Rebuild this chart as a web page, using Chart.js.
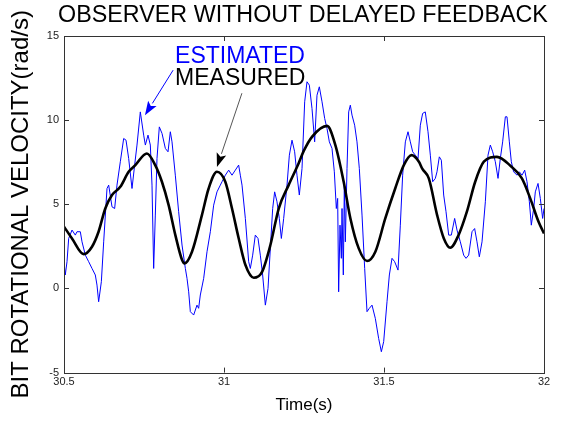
<!DOCTYPE html>
<html>
<head>
<meta charset="utf-8">
<script src="https://cdn.jsdelivr.net/npm/chart.js"></script>
<style>
  html, body { margin: 0; padding: 0; background: #fff; }
  #wrap { width: 566px; height: 422px; position: relative; }
</style>
</head>
<body>
<div id="wrap"><canvas id="c" width="566" height="422"></canvas></div>
<script>
// ---- data ----
const TITLE = "OBSERVER WITHOUT DELAYED FEEDBACK";
const X_TITLE = "Time(s)";
const Y_TITLE = "BIT ROTATIONAL VELOCITY(rad/s)";
const X_TICKS = [30.5, 31, 31.5, 32];
const Y_TICKS = [-5, 0, 5, 10, 15];

const MEASURED_T = [30.5, 30.525, 30.5615, 30.5875, 30.608, 30.629, 30.65, 30.676, 30.702, 30.723, 30.759, 30.785, 30.806, 30.827, 30.848, 30.869, 30.877, 30.9, 30.931, 30.952, 30.978, 31.004, 31.025, 31.046, 31.067, 31.093, 31.119, 31.145, 31.171, 31.202, 31.233, 31.25, 31.275, 31.322, 31.348, 31.374, 31.395, 31.421, 31.447, 31.473, 31.504, 31.535, 31.562, 31.586, 31.609, 31.62, 31.64, 31.666, 31.687, 31.707, 31.733, 31.759, 31.785, 31.812, 31.853, 31.895, 31.931, 31.957, 31.983, 32.0];
const MEASURED_V = [3.67, 2.97, 2.04, 2.48, 3.37, 4.75, 5.55, 6.04, 6.93, 7.33, 8.02, 7.33, 6.34, 4.95, 3.17, 1.69, 1.49, 2.18, 4.36, 5.94, 6.93, 6.34, 4.75, 2.97, 1.39, 0.64, 0.99, 2.58, 4.75, 6.14, 7.43, 8.2, 9.01, 9.66, 8.52, 6.34, 4.16, 2.38, 1.63, 2.18, 4.16, 5.94, 7.33, 7.92, 7.53, 7.1, 6.54, 4.36, 2.97, 2.42, 3.17, 4.56, 6.34, 7.53, 7.82, 7.29, 6.54, 5.35, 3.96, 3.27];

const ESTIMATED_T = [30.5, 30.504, 30.5094, 30.5146, 30.525, 30.5354, 30.5406, 30.551, 30.5563, 30.5667, 30.5771, 30.5875, 30.5979, 30.6031, 30.6083, 30.6167, 30.624, 30.6344, 30.6396, 30.65, 30.6583, 30.6656, 30.676, 30.6865, 30.6938, 30.7021, 30.7125, 30.7208, 30.7281, 30.7385, 30.749, 30.7542, 30.7625, 30.7698, 30.775, 30.7802, 30.7854, 30.7906, 30.7979, 30.8063, 30.8167, 30.825, 30.8323, 30.8375, 30.8479, 30.8583, 30.8688, 30.8792, 30.8844,
  30.8896, 30.8948, 30.9052, 30.9156, 30.9208, 30.926, 30.9365, 30.9469, 30.9573, 30.9677, 30.9781, 30.9885, 30.9938, 31.0042, 31.0146, 31.025, 31.0354, 31.0458, 31.051, 31.0563, 31.0667, 31.0771, 31.0823, 31.0896, 31.0979, 31.1063, 31.1135, 31.1208, 31.1292, 31.1375, 31.1448, 31.1521, 31.1583, 31.1656, 31.1729, 31.1792, 31.1865, 31.1969, 31.2042, 31.2125, 31.2208, 31.2281, 31.2354, 31.2438,
  31.2521, 31.2594, 31.2667, 31.275, 31.2833, 31.2906, 31.2979, 31.3063, 31.3146, 31.3219, 31.3292, 31.3375, 31.3448, 31.351, 31.3552, 31.3583, 31.3625, 31.3667, 31.3688, 31.3729, 31.376, 31.3792, 31.3844, 31.3896, 31.3948, 31.4, 31.4083, 31.4156, 31.4229, 31.4313, 31.4396, 31.4469, 31.4542, 31.4625, 31.4729, 31.4833, 31.4917, 31.499, 31.5094, 31.5167, 31.525, 31.5333, 31.5438, 31.551, 31.5583, 31.5667, 31.575, 31.5823, 31.5896, 31.5979, 31.6063, 31.6135, 31.6208,
  31.629, 31.6375, 31.6448, 31.6521, 31.6604, 31.6656, 31.6729, 31.6792, 31.6865, 31.6938, 31.7021, 31.7104, 31.7208, 31.7281, 31.7385, 31.749, 31.7563, 31.7646, 31.775, 31.7833, 31.7906, 31.7979, 31.8063, 31.8167, 31.825, 31.8323, 31.8396, 31.8479, 31.8563, 31.8635, 31.8708, 31.8792, 31.8844, 31.8917, 31.8979, 31.9052, 31.9156, 31.9229, 31.9313, 31.9396, 31.9469, 31.9542, 31.9604, 31.9677, 31.9729, 31.9813, 31.9885, 31.9958, 32.0];
const ESTIMATED_V = [1.59, 0.80, 1.59, 2.97, 3.47, 3.17, 3.37, 3.37, 2.77, 1.98, 1.59, 1.19, 0.80, 0.20, -0.79, 0.40, 2.77, 5.94, 6.14, 4.85, 4.75, 6.14, 7.53, 8.91, 8.81, 7.72, 5.94, 7.33, 8.52, 10.49, 9.11, 8.52, 9.11, 8.52, 6.14, 1.19, 4.36, 7.72, 9.60, 9.21, 8.32, 8.12, 9.31, 8.71, 6.73, 4.56, 2.58, 1.19, 0.60,
  -0.20, -1.38, -1.58, -0.99, -1.18, -0.39, 0.60, 2.18, 3.37, 4.95, 5.74, 6.14, 6.34, 6.73, 7.03, 6.73, 7.03, 7.33, 6.73, 6.14, 4.16, 1.59, 1.19, 1.98, 3.17, 2.97, 1.98, 0.80, -0.99, 0.00, 2.38, 4.75, 5.74, 5.15, 4.16, 2.97, 4.16, 6.14, 7.92, 8.81, 8.12, 6.73, 5.55, 7.13,
  11.09, 12.28, 12.08, 10.69, 8.71, 11.48, 11.98, 11.09, 10.10, 9.50, 8.71, 8.32, 6.93, 4.75, 5.35, -0.20, 3.76, 1.79, 4.75, 0.80, 6.14, 2.77, 7.13, 10.49, 10.89, 10.30, 9.70, 8.71, 7.13, 4.36, 1.19, -1.38, -1.18, -0.99, -1.78, -2.97, -3.76, -3.16, -0.79, 0.80, 1.79, 1.59, 1.09, 3.76, 6.73, 8.71, 9.31, 8.71, 8.12, 7.92, 7.72, 9.70, 10.40,
  10.49, 9.31, 7.92, 6.34, 6.54, 6.93, 7.82, 7.62, 5.55, 4.56, 3.17, 3.17, 4.16, 3.47, 2.77, 1.98, 1.79, 1.98, 3.37, 3.56, 2.77, 1.88, 2.77, 5.15, 7.92, 8.52, 8.12, 7.53, 6.54, 7.72, 8.71, 10.20, 10.20, 8.71, 7.53, 6.93, 6.73, 6.93, 6.73, 7.03, 6.34, 5.15, 3.76, 4.75, 5.74, 6.24, 5.35, 4.16, 4.75];

// annotation labels and arrows (data units)
const LABEL_EST = { text: "ESTIMATED", x: 30.847, y: 13.8, color: "#0000ff" };
const LABEL_MEAS = { text: "MEASURED", x: 30.847, y: 12.49, color: "#000000" };
const ARROW_EST = { from: [30.841, 12.97], to: [30.753, 10.29], line: "#0000ff", head: "#0000ff" };
const ARROW_MEAS = { from: [31.056, 11.6], to: [30.978, 7.21], line: "#555555", head: "#000000" };

const FONT = "Arial, 'Liberation Sans', Helvetica, sans-serif";

const toXY = (ts, vs) => ts.map((t, i) => ({ x: t, y: vs[i] }));

const framePlugin = {
  id: 'frame',
  afterDatasetsDraw(chart) {
    const ctx = chart.ctx;
    const a = chart.chartArea;
    const xs = chart.scales.x, ys = chart.scales.y;
    ctx.save();
    // box
    ctx.strokeStyle = '#333';
    ctx.lineWidth = 1;
    ctx.strokeRect(Math.round(a.left) + 0.5, Math.round(a.top) + 0.5, Math.round(a.right - a.left), Math.round(a.bottom - a.top));
    // inward ticks
    const L = 5;
    ctx.beginPath();
    X_TICKS.forEach(v => {
      const px = Math.round(xs.getPixelForValue(v)) + 0.5;
      ctx.moveTo(px, a.bottom); ctx.lineTo(px, a.bottom - L);
      ctx.moveTo(px, a.top); ctx.lineTo(px, a.top + L);
    });
    Y_TICKS.forEach(v => {
      const py = Math.round(ys.getPixelForValue(v)) + 0.5;
      ctx.moveTo(a.left, py); ctx.lineTo(a.left + L, py);
      ctx.moveTo(a.right, py); ctx.lineTo(a.right - L, py);
    });
    ctx.stroke();

    // arrows
    const arrow = (ar) => {
      const x1 = xs.getPixelForValue(ar.from[0]), y1 = ys.getPixelForValue(ar.from[1]);
      const x2 = xs.getPixelForValue(ar.to[0]), y2 = ys.getPixelForValue(ar.to[1]);
      const ang = Math.atan2(y2 - y1, x2 - x1);
      const hl = 14, hw = 5;
      const bx = x2 - hl * Math.cos(ang), by = y2 - hl * Math.sin(ang);
      ctx.strokeStyle = ar.line; ctx.lineWidth = 1;
      ctx.beginPath(); ctx.moveTo(x1, y1); ctx.lineTo(bx, by); ctx.stroke();
      ctx.fillStyle = ar.head;
      ctx.beginPath();
      ctx.moveTo(x2, y2);
      ctx.lineTo(bx + hw * Math.sin(ang), by - hw * Math.cos(ang));
      ctx.lineTo(bx + 3 * Math.cos(ang), by + 3 * Math.sin(ang));
      ctx.lineTo(bx - hw * Math.sin(ang), by + hw * Math.cos(ang));
      ctx.closePath(); ctx.fill();
    };
    arrow(ARROW_EST);
    arrow(ARROW_MEAS);

    // labels
    ctx.font = "23px " + FONT;
    ctx.textBaseline = 'middle';
    ctx.textAlign = 'left';
    [LABEL_EST, LABEL_MEAS].forEach(l => {
      ctx.fillStyle = l.color;
      ctx.fillText(l.text, xs.getPixelForValue(l.x), ys.getPixelForValue(l.y));
    });

    // main title, centered on plot area
    ctx.fillStyle = '#000';
    ctx.font = "23.3px " + FONT;
    ctx.textAlign = 'center';
    ctx.fillText(TITLE, (a.left + a.right) / 2 - 1, 16);
    ctx.restore();
  }
};

new Chart(document.getElementById('c'), {
  type: 'scatter',
  data: {
    datasets: [
      {
        label: 'MEASURED',
        data: toXY(MEASURED_T, MEASURED_V),
        showLine: true,
        borderColor: '#000000',
        borderWidth: 2.6,
        pointRadius: 0,
        tension: 0.4,
        cubicInterpolationMode: 'monotone',
        order: 0
      },
      {
        label: 'ESTIMATED',
        data: toXY(ESTIMATED_T, ESTIMATED_V),
        showLine: true,
        borderColor: '#0000ff',
        borderWidth: 1,
        pointRadius: 0,
        tension: 0,
        order: 1
      }
    ]
  },
  options: {
    responsive: false,
    animation: false,
    devicePixelRatio: 1,
    layout: { padding: { top: 36, right: 22, left: 0, bottom: 0 } },
    plugins: { legend: { display: false }, tooltip: { enabled: false }, title: { display: false } },
    scales: {
      x: {
        type: 'linear', min: 30.5, max: 32,
        afterBuildTicks: (s) => { s.ticks = X_TICKS.map(v => ({ value: v })); },
        afterFit: (s) => { s.height = 49.4; },
        grid: { display: false, drawTicks: false },
        border: { display: false },
        ticks: { color: '#222', font: { family: FONT, size: 11 }, padding: 3, maxRotation: 0,
                 callback: (v) => String(v) },
        title: { display: true, text: X_TITLE, color: '#000', font: { family: FONT, size: 17 }, padding: { top: 0, bottom: 6 } }
      },
      y: {
        type: 'linear', min: -5, max: 15,
        afterBuildTicks: (s) => { s.ticks = Y_TICKS.map(v => ({ value: v })); },
        afterFit: (s) => { s.width = 64; },
        grid: { display: false, drawTicks: false },
        border: { display: false },
        ticks: { color: '#222', font: { family: FONT, size: 11 }, padding: 5, callback: (v) => String(v) },
        title: { display: true, text: Y_TITLE, color: '#000', font: { family: FONT, size: 24 }, padding: { top: 7, bottom: 0 } }
      }
    }
  },
  plugins: [framePlugin]
});
</script>
</body>
</html>
